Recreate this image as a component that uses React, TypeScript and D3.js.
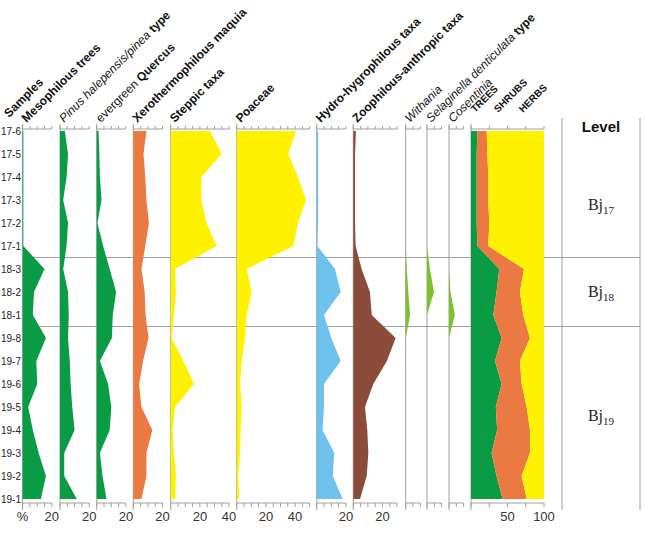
import React from 'react';
import * as d3 from 'd3';

// samples, top to bottom
const samples = ['17-6', '17-5', '17-4', '17-3', '17-2', '17-1', '18-3', '18-2', '18-1',
  '19-8', '19-7', '19-6', '19-5', '19-4', '19-3', '19-2', '19-1'];

// percentages per sample (same order as samples)
const mesophilous = [0.5, 0.5, 0.5, 0.5, 0.5, 0.5, 15, 7.8, 7, 16, 9.4, 10, 3.8, 7, 11, 16, 12.5];
const pinus = [3.3, 5.5, 4.5, 2.2, 5.5, 4.5, 2.2, 5.5, 6, 5.5, 6.7, 7.3, 8.4, 10, 2.9, 2.9, 11.5];
const quercus = [1.3, 1.8, 2.2, 3.3, 0.5, 4.4, 8.9, 13.3, 11, 10.4, 2.2, 7.8, 10, 8.9, 2.2, 4, 6.7];
const xerothermophilous = [9, 7, 8.2, 9, 10.7, 8.2, 5.6, 7.8, 8.4, 10.4, 6.7, 4, 5.6, 13, 9, 9, 5.6];
const steppic = [27, 35, 21, 21, 24.6, 31.5, 3, 3.6, 2.3, 0.7, 8.7, 16, 3, 1.4, 2.3, 3.6, 3];
const poaceae = [40.6, 35.4, 42, 47.5, 42, 38.8, 6.8, 10.3, 6.8, 5.7, 3.4, 2.3, 3.4, 2.7, 2.3, 1.1, 1.8];
const hydro = [1, 1, 1, 1, 1, 0.5, 12.5, 16.4, 5, 10, 16.4, 5, 5, 4, 12, 11, 17.8];
const zoophilous = [1.8, 1.2, 1.2, 1.2, 1.2, 1.6, 5.7, 11.4, 12.6, 29, 23, 13.7, 8, 9.6, 10.3, 9.2, 4.6];
const withania = [0, 0, 0, 0, 0, 0, 0.8, 1.8, 3, 0, 0, 0, 0, 0, 0, 0, 0];
const selaginella = [0, 0, 0, 0, 0, 0, 2, 4.8, 0, 0, 0, 0, 0, 0, 0, 0, 0];
const cosentinia = [0, 0, 0, 0, 0, 0, 0, 1, 4, 0, 0, 0, 0, 0, 0, 0, 0];

// summary diagram
const trees = [8.7, 7.8, 7.8, 7.8, 7.8, 8.7, 38.8, 35, 30.6, 42, 32.9, 42, 34, 35.8, 28.2, 35, 43.2];
const shrubs = [12.8, 14.6, 15.9, 15.9, 17.2, 15, 33.8, 32, 41, 38.8, 34.1, 27.4, 42.3, 45, 52.6, 34.4, 33.1];
const herbs = [78.5, 77.6, 76.3, 76.3, 75, 76.3, 27.4, 33, 28.4, 19.2, 33, 30.6, 23.7, 19.2, 19.2, 30.6, 23.7];

const levels = [
  { name: '17', first: '17-6', last: '17-1' },
  { name: '18', first: '18-3', last: '18-1' },
  { name: '19', first: '19-8', last: '19-1' },
];

const GREEN = '#0a9b45';
const ORANGE = '#eb7a42';
const YELLOW = '#fff200';
const BLUE = '#6ec2ec';
const BROWN = '#8c4c3c';
const LIME = '#7cc22c';
const GRID = '#a0a0a0';
const SANS = 'Liberation Sans, Arial, sans-serif';

type Part = { t: string; bold?: boolean; italic?: boolean };

const panels: { x0: number; max: number; data: number[]; color: string; labels: number[]; title: Part[]; first?: boolean }[] = [
  { x0: 22.6, max: 20, data: mesophilous, color: GREEN, labels: [20], first: true, title: [{ t: 'Mesophilous trees', bold: true }] },
  { x0: 60, max: 20, data: pinus, color: GREEN, labels: [20], title: [{ t: 'Pinus halepensis/pinea', italic: true }, { t: ' type', bold: true }] },
  { x0: 96.7, max: 20, data: quercus, color: GREEN, labels: [20], title: [{ t: 'evergreen ' }, { t: 'Quercus', bold: true }] },
  { x0: 133.3, max: 20, data: xerothermophilous, color: ORANGE, labels: [20], title: [{ t: 'Xerothermophilous maquia', bold: true }] },
  { x0: 170.7, max: 40, data: steppic, color: YELLOW, labels: [20, 40], title: [{ t: 'Steppic taxa', bold: true }] },
  { x0: 236.7, max: 50, data: poaceae, color: YELLOW, labels: [20, 40], title: [{ t: 'Poaceae', bold: true }] },
  { x0: 316.7, max: 20, data: hydro, color: BLUE, labels: [20], title: [{ t: 'Hydro-hygrophilous taxa', bold: true }] },
  { x0: 353.3, max: 30, data: zoophilous, color: BROWN, labels: [20], title: [{ t: 'Zoophilous-anthropic taxa', bold: true }] },
  { x0: 405.7, max: 10, data: withania, color: LIME, labels: [], title: [{ t: 'Withania', italic: true }] },
  { x0: 427, max: 10, data: selaginella, color: LIME, labels: [], title: [{ t: 'Selaginella denticulata', italic: true }, { t: ' type', bold: true }] },
  { x0: 449, max: 10, data: cosentinia, color: LIME, labels: [], title: [{ t: 'Cosentinia', italic: true }] },
];

const K = 1.46; // px per percent
const TOP_AXIS = 129;
const BOTTOM_AXIS = 503;

const y = d3.scalePoint<string>().domain(samples).range([131, 499]);

const Title = ({ x, yy, parts, size = 12 }: { x: number; yy: number; parts: Part[]; size?: number }) => (
  <text transform={`translate(${x},${yy}) rotate(-45)`} fontFamily={SANS} fontSize={size} fill="#111">
    {parts.map((p, i) => (
      <tspan key={i} fontWeight={p.bold ? 'bold' : 'normal'} fontStyle={p.italic ? 'italic' : 'normal'}>{p.t}</tspan>
    ))}
  </text>
);

const Axes = ({ x, max, step, labels, first }: { x: d3.ScaleLinear<number, number>; max: number; step: number; labels: number[]; first?: boolean }) => {
  const ticks = d3.range(0, max + 0.001, step);
  return (
    <g stroke={GRID} strokeWidth={1}>
      <line x1={x(0)} x2={x(max)} y1={TOP_AXIS} y2={TOP_AXIS} />
      <line x1={x(0)} x2={x(max)} y1={BOTTOM_AXIS} y2={BOTTOM_AXIS} />
      <line x1={x(0)} x2={x(0)} y1={TOP_AXIS - 5} y2={BOTTOM_AXIS + 7} />
      {ticks.map(t => (
        <g key={t}>
          <line x1={x(t)} x2={x(t)} y1={TOP_AXIS - 3} y2={TOP_AXIS} />
          <line x1={x(t)} x2={x(t)} y1={BOTTOM_AXIS} y2={BOTTOM_AXIS + 4} />
        </g>
      ))}
      {first && (
        <text x={x(0)} y={521} textAnchor="middle" stroke="none" fill="#333" fontFamily={SANS} fontSize={13}>%</text>
      )}
      {labels.map(l => (
        <text key={l} x={x(l)} y={521} textAnchor="middle" stroke="none" fill="#333" fontFamily={SANS} fontSize={13}>{l}</text>
      ))}
    </g>
  );
};

export default function App() {
  const boundaries = levels.slice(1).map((lv, i) => ((y(levels[i].last) as number) + (y(lv.first) as number)) / 2);
  const zoneTops = [152, ...boundaries];
  const zoneBottoms = [...boundaries, 505];

  const totalX = d3.scaleLinear().domain([0, 100]).range([471, 544]);
  const rows = samples.map((s, i) => ({ sample: s, trees: trees[i], shrubs: shrubs[i], herbs: herbs[i] }));
  const stack = d3.stack<any>().keys(['trees', 'shrubs', 'herbs'])(rows);
  const stackArea = d3.area<any>()
    .y((d: any) => y(d.data.sample) as number)
    .x0((d: any) => totalX(d[0]))
    .x1((d: any) => totalX(Math.min(100, d[1])));
  const stackColors = [GREEN, ORANGE, YELLOW];

  return (
    <svg width={645} height={535} style={{ position: 'absolute', left: 0, top: 0, background: '#fff' }}>
      <rect width={645} height={535} fill="#fff" />

      {/* level separators */}
      {boundaries.map((b, i) => (
        <line key={i} x1={22} x2={640} y1={b} y2={b} stroke={GRID} strokeWidth={1} />
      ))}
      <line x1={562} x2={562} y1={118} y2={510} stroke={GRID} />
      <line x1={640} x2={640} y1={118} y2={510} stroke={GRID} />

      {/* sample labels */}
      {samples.map(s => (
        <text key={s} x={21} y={(y(s) as number) + 4} textAnchor="end" fontFamily={SANS} fontSize={10} fill="#222">{s}</text>
      ))}
      <Title x={9} yy={118} parts={[{ t: 'Samples', bold: true }]} />

      {panels.map((p, i) => {
        const x = d3.scaleLinear().domain([0, p.max]).range([p.x0, p.x0 + p.max * K]);
        const area = d3.area<number>()
          .y((_, j) => y(samples[j]) as number)
          .x0(x(0))
          .x1(d => x(d));
        return (
          <g key={i}>
            <Axes x={x} max={p.max} step={5} labels={p.labels} first={p.first} />
            <path d={area(p.data) ?? ''} fill={p.color} />
            <Title x={p.x0 + 4} yy={123} parts={p.title} />
          </g>
        );
      })}

      {/* trees / shrubs / herbs */}
      <Axes x={totalX} max={100} step={25} labels={[50, 100]} />
      {stack.map((s, i) => (
        <path key={s.key} d={stackArea(s as any) ?? ''} fill={stackColors[i]} />
      ))}
      <Title x={475} yy={113} parts={[{ t: 'TREES', bold: true }]} size={10} />
      <Title x={498} yy={113} parts={[{ t: 'SHRUBS', bold: true }]} size={10} />
      <Title x={523} yy={113} parts={[{ t: 'HERBS', bold: true }]} size={10} />

      {/* level column */}
      <text x={601} y={132} textAnchor="middle" fontFamily={SANS} fontSize={15} fontWeight="bold" fill="#111">Level</text>
      {levels.map((lv, i) => (
        <text key={lv.name} x={601} y={(zoneTops[i] + zoneBottoms[i]) / 2 + 5} textAnchor="middle"
          fontFamily="Liberation Serif, Times New Roman, serif" fontSize={16} fill="#222">
          Bj<tspan fontSize={11} dy={4}>{lv.name}</tspan>
        </text>
      ))}
    </svg>
  );
}
